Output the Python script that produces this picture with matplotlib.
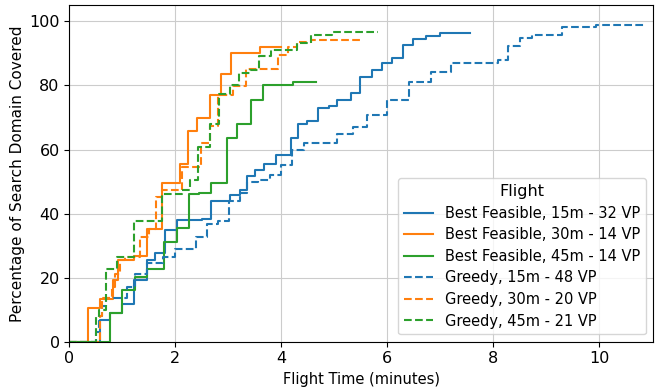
import matplotlib
matplotlib.use("Agg")
import matplotlib.pyplot as plt

# flight time (minutes) at each new viewpoint, and coverage (%) reached there
bf15_t = [0, 0.57, 0.77, 0.99, 1.22, 1.47, 1.62, 1.81, 2.03, 2.50, 2.68, 3.03, 3.23, 3.35, 3.50, 3.68,
          3.91, 4.18, 4.32, 4.48, 4.69, 4.91, 5.06, 5.31, 5.49, 5.71, 5.91, 6.10, 6.29, 6.48, 6.74, 6.99, 7.56]
bf15_y = [0, 6.7, 8.9, 11.7, 19.2, 25.6, 27.7, 34.8, 37.9, 38.4, 43.9, 45.7, 47.5, 51.7, 53.7, 55.4,
          58.4, 63.7, 67.9, 68.9, 73.0, 73.5, 75.6, 77.7, 82.5, 84.8, 86.9, 88.7, 92.6, 94.5, 95.4, 96.3, 96.3]

bf30_t = [0, 0.36, 0.57, 0.83, 0.91, 1.22, 1.47, 1.74, 2.09, 2.23, 2.40, 2.65, 2.86, 3.06, 3.59, 3.99]
bf30_y = [0, 10.5, 13.4, 19.2, 25.6, 26.7, 35.3, 49.4, 55.6, 65.8, 70.0, 77.0, 83.5, 90.0, 91.9, 91.9]

bf45_t = [0, 0.77, 0.99, 1.24, 1.47, 1.78, 2.03, 2.25, 2.45, 2.68, 2.98, 3.16, 3.42, 3.66, 4.23, 4.65]
bf45_y = [0, 8.9, 16.0, 20.2, 22.7, 31.1, 35.4, 46.1, 46.4, 49.7, 63.7, 68.1, 75.4, 80.3, 81.1, 81.1]

gr15_t = [0, 0.50, 0.55, 0.62, 0.70, 1.08, 1.24, 1.46, 1.77, 1.99, 2.39, 2.60, 2.81, 3.02, 3.23, 3.36,
          3.57, 3.79, 3.99, 4.20, 4.43, 5.05, 5.36, 5.61, 5.99, 6.42, 6.82, 7.20, 8.10, 8.28, 8.50, 8.73,
          9.30, 9.95, 10.86]
gr15_y = [0, 3.0, 8.0, 11.0, 13.7, 17.1, 21.2, 24.6, 26.4, 29.0, 32.7, 36.8, 37.7, 43.8, 46.5, 49.9,
          50.6, 52.0, 55.3, 60.0, 61.9, 65.0, 67.1, 70.7, 75.5, 81.0, 84.3, 87.1, 87.9, 92.4, 94.8, 95.8,
          98.3, 99.0, 99.0]

gr30_t = [0, 0.58, 0.62, 0.80, 0.87, 0.95, 1.05, 1.33, 1.50, 1.63, 1.74, 2.12, 2.48, 2.65, 2.81, 3.09,
          3.33, 3.93, 4.13, 4.30, 4.57, 5.55]
gr30_y = [0, 8.0, 13.5, 17.0, 21.0, 25.4, 26.4, 32.7, 35.3, 45.3, 47.5, 54.6, 62.1, 67.5, 77.0, 79.8,
          85.3, 89.5, 92.1, 93.6, 94.2, 94.2]

gr45_t = [0, 0.50, 0.55, 0.70, 0.89, 1.22, 1.74, 2.12, 2.28, 2.42, 2.65, 2.82, 3.03, 3.21, 3.41, 3.58,
          3.80, 4.29, 4.57, 4.95, 5.83]
gr45_y = [0, 7.7, 9.8, 22.8, 26.5, 37.8, 46.2, 47.5, 50.4, 60.8, 67.9, 77.3, 80.1, 83.9, 84.8, 89.1,
          91.2, 93.3, 95.7, 96.6, 96.6]

labels = ["Best Feasible, 15m - 32 VP", "Best Feasible, 30m - 14 VP", "Best Feasible, 45m - 14 VP",
          "Greedy, 15m - 48 VP", "Greedy, 30m - 20 VP", "Greedy, 45m - 21 VP"]

fig = plt.figure(figsize=(6.61, 3.87), dpi=100)
ax = fig.add_axes([0.105, 0.117, 0.883, 0.869])

ax.step(bf15_t, bf15_y, where="post", color="tab:blue", lw=1.5, label=labels[0])
ax.step(bf30_t, bf30_y, where="post", color="tab:orange", lw=1.5, label=labels[1])
ax.step(bf45_t, bf45_y, where="post", color="tab:green", lw=1.5, label=labels[2])
ax.step(gr15_t, gr15_y, where="post", color="tab:blue", lw=1.5, ls="--", label=labels[3])
ax.step(gr30_t, gr30_y, where="post", color="tab:orange", lw=1.5, ls="--", label=labels[4])
ax.step(gr45_t, gr45_y, where="post", color="tab:green", lw=1.5, ls="--", label=labels[5])

ax.set_xlim(0, 11.02)
ax.set_ylim(0, 105)
ax.set_xticks([0, 2, 4, 6, 8, 10])
ax.set_yticks([0, 20, 40, 60, 80, 100])
ax.tick_params(labelsize=11.5)
ax.grid(True, color="#cccccc", lw=0.8)
ax.set_axisbelow(True)
ax.set_xlabel("Flight Time (minutes)", fontsize=10.5, labelpad=4)
ax.set_ylabel("Percentage of Search Domain Covered", fontsize=11, labelpad=3)
ax.legend(title="Flight", loc="lower right", fontsize=10.5, title_fontsize=11.5,
          labelspacing=0.45)

fig.savefig("out.png", dpi=100)
